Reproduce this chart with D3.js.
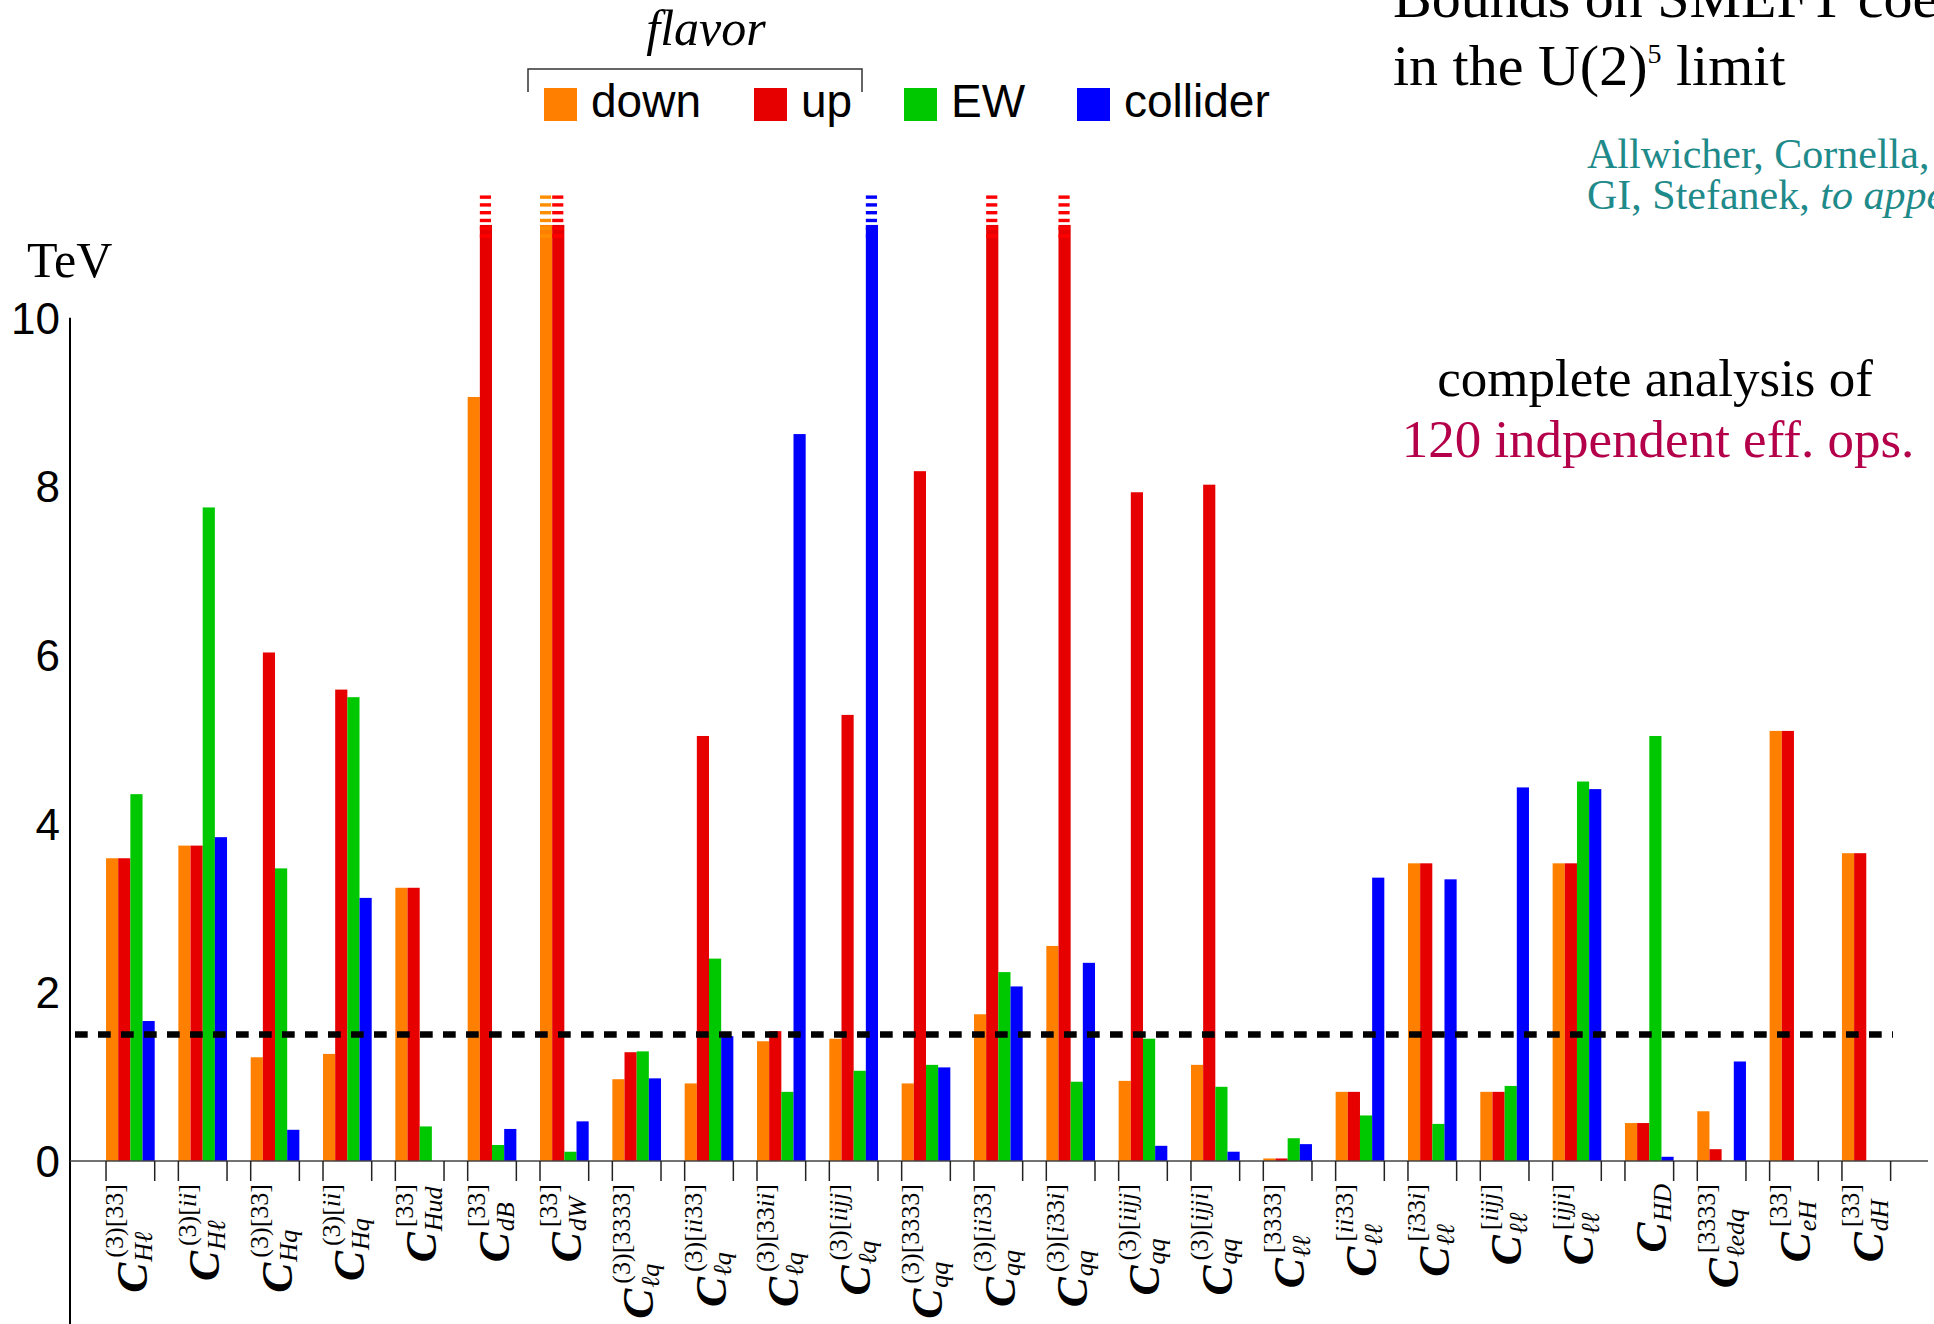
<!DOCTYPE html>
<html>
<head>
<meta charset="utf-8">
<script src="https://cdn.jsdelivr.net/npm/d3@7"></script>
<style>
  body { margin: 0; background: #fff; }
  svg { display: block; }
  .serif { font-family: "Liberation Serif", "Times New Roman", serif; }
  .sans { font-family: "Liberation Sans", Arial, sans-serif; }
</style>
</head>
<body>
<div id="chart"></div>
<script>
// Operators (x categories), with their super- and subscripts
const operators = ["Hl3_33", "Hl3_ii", "Hq3_33", "Hq3_ii", "Hud_33", "dB_33", "dW_33",
  "lq3_3333", "lq3_ii33", "lq3_33ii", "lq3_iijj",
  "qq3_3333", "qq3_ii33", "qq3_i33i", "qq3_iijj", "qq3_ijji",
  "ll_3333", "ll_ii33", "ll_i33i", "ll_iijj", "ll_ijji",
  "HD", "ledq_3333", "eH_33", "dH_33"];
const opSup = ["(3)[33]", "(3)[ii]", "(3)[33]", "(3)[ii]", "[33]", "[33]", "[33]",
  "(3)[3333]", "(3)[ii33]", "(3)[33ii]", "(3)[iijj]",
  "(3)[3333]", "(3)[ii33]", "(3)[i33i]", "(3)[iijj]", "(3)[ijji]",
  "[3333]", "[ii33]", "[i33i]", "[iijj]", "[ijji]",
  "", "[3333]", "[33]", "[33]"];
const opSub = ["Hℓ", "Hℓ", "Hq", "Hq", "Hud", "dB", "dW",
  "ℓq", "ℓq", "ℓq", "ℓq",
  "qq", "qq", "qq", "qq", "qq",
  "ℓℓ", "ℓℓ", "ℓℓ", "ℓℓ", "ℓℓ",
  "HD", "ℓedq", "eH", "dH"];

// Bounds in TeV; null = no bar, Infinity = off the scale
const seriesNames = ["down", "up", "EW", "collider"];
const down = [3.59, 3.74, 1.23, 1.27, 3.24, 9.06, Infinity, 0.97, 0.92, 1.42, 1.45,
  0.92, 1.74, 2.55, 0.95, 1.14, 0.03, 0.82, 3.53, 0.82, 3.53, 0.45, 0.59, 5.10, 3.65];
const up = [3.59, 3.74, 6.03, 5.59, 3.24, Infinity, Infinity, 1.29, 5.04, 1.54, 5.29,
  8.18, Infinity, Infinity, 7.93, 8.02, 0.03, 0.82, 3.53, 0.82, 3.53, 0.45, 0.14, 5.10, 3.65];
const ew = [4.35, 7.75, 3.47, 5.50, 0.41, 0.19, 0.11, 1.30, 2.40, 0.82, 1.07,
  1.14, 2.24, 0.94, 1.45, 0.88, 0.27, 0.54, 0.44, 0.89, 4.50, 5.04, null, null, null];
const collider = [1.66, 3.84, 0.37, 3.12, null, 0.38, 0.47, 0.98, 1.48, 8.62, Infinity,
  1.11, 2.07, 2.35, 0.18, 0.11, 0.20, 3.36, 3.34, 4.43, 4.41, 0.05, 1.18, null, null];

const yTicks = [0, 2, 4, 6, 8, 10];
const threshold = 1.5;
const yCap = 11.1; // where off-scale bars are cut

const colors = { down: "#ff8000", up: "#e60000", EW: "#00c800", collider: "#0000ff" };

const width = 1934, height = 1324;

const svg = d3.select("#chart").append("svg")
    .attr("width", width)
    .attr("height", height);

// Scales
const x = d3.scaleBand()
    .domain(operators)
    .range([94.2, 94.2 + operators.length * 72.33])
    .paddingInner(0.327)
    .paddingOuter(0.1635);

const xs = d3.scaleBand()
    .domain(seriesNames)
    .range([0, x.bandwidth()]);

const y = d3.scaleLinear()
    .domain([0, 10])
    .range([1161, 317.7]);

// Build bar records
const series = [down, up, ew, collider];
const bars = [];
operators.forEach((op, i) => {
    seriesNames.forEach((s, j) => {
        const v = series[j][i];
        if (v != null) bars.push({ op, s, v });
    });
});

// Bars
svg.append("g").selectAll("rect")
    .data(bars)
    .join("rect")
    .attr("x", d => x(d.op) + xs(d.s))
    .attr("width", xs.bandwidth())
    .attr("y", d => y(Math.min(d.v, yCap)))
    .attr("height", d => y(0) - y(Math.min(d.v, yCap)))
    .attr("fill", d => colors[d.s]);

// Dashes on top of off-scale bars
const dashes = [];
bars.filter(d => !isFinite(d.v)).forEach(d => {
    for (let k = 0; k < 6; k++) dashes.push({ ...d, k });
});
svg.append("g").selectAll("rect")
    .data(dashes)
    .join("rect")
    .attr("x", d => x(d.op) + xs(d.s))
    .attr("width", xs.bandwidth() - 1)
    .attr("y", d => y(yCap) - 29.5 + d.k * 7.78)
    .attr("height", 3.4)
    .attr("fill", d => d3.color(colors[d.s]).brighter(0.3));

// Axes lines
svg.append("line")
    .attr("x1", 70).attr("x2", 70)
    .attr("y1", y(10)).attr("y2", height)
    .attr("stroke", "#000").attr("stroke-width", 2);

svg.append("line")
    .attr("x1", 70).attr("x2", 1928)
    .attr("y1", y(0)).attr("y2", y(0))
    .attr("stroke", "#444").attr("stroke-width", 1.5);

// Ticks at the group edges
const edgeTicks = operators.flatMap(op => [x(op), x(op) + x.bandwidth()]);
svg.append("g").selectAll("line")
    .data(edgeTicks)
    .join("line")
    .attr("x1", d => d).attr("x2", d => d)
    .attr("y1", y(0)).attr("y2", y(0) + 20)
    .attr("stroke", "#222").attr("stroke-width", 1.5);

// Y tick labels
svg.append("g").selectAll("text")
    .data(yTicks)
    .join("text")
    .attr("class", "sans")
    .attr("x", 60)
    .attr("y", d => y(d))
    .attr("dy", "0.36em")
    .attr("text-anchor", "end")
    .attr("font-size", 44)
    .text(d => d);

svg.append("text")
    .attr("class", "serif")
    .attr("x", 27).attr("y", 277)
    .attr("font-size", 50)
    .text("TeV");

// Threshold line
svg.append("line")
    .attr("x1", 75).attr("x2", 1893)
    .attr("y1", y(threshold)).attr("y2", y(threshold))
    .attr("stroke", "#000")
    .attr("stroke-width", 6.5)
    .attr("stroke-dasharray", "12.7 10.3");

// Rotated operator labels
function rich(text, str) {
    const runs = str.match(/[A-Za-zℓ]+|[^A-Za-zℓ]+/g) || [];
    runs.forEach(r => text.append("tspan")
        .attr("font-style", /[A-Za-zℓ]/.test(r) ? "italic" : "normal")
        .text(r));
}

const labels = svg.append("g").attr("class", "serif").selectAll("g")
    .data(operators)
    .join("g")
    .attr("transform", d => `translate(${x(d) + x.bandwidth() / 2},1182) rotate(-90)`);

labels.each(function(d, i) {
    const g = d3.select(this);
    const sup = g.append("text").attr("y", -7).attr("font-size", 26);
    rich(sup, opSup[i]);
    const sub = g.append("text").attr("y", 22).attr("font-size", 26);
    rich(sub, opSub[i]);
    const supW = opSup[i] ? sup.node().getComputedTextLength() + 4 : 0;
    const subW = sub.node().getComputedTextLength();
    const w = Math.max(supW, subW);
    sub.attr("x", -2 - w);
    sup.attr("x", -2 - w + 4);
    g.append("text")
        .attr("x", -2 - w - 31)
        .attr("y", 16.5)
        .attr("font-size", 45)
        .attr("font-style", "italic")
        .attr("font-weight", "bold")
        .text("C");
});

// Legend
const legendX = [544, 754, 904, 1077];
const legend = svg.append("g").selectAll("g")
    .data(seriesNames)
    .join("g")
    .attr("transform", (d, i) => `translate(${legendX[i]},88)`);
legend.append("rect")
    .attr("width", 33).attr("height", 33)
    .attr("fill", d => colors[d]);
legend.append("text")
    .attr("class", "sans")
    .attr("x", 47).attr("y", 29)
    .attr("font-size", 46)
    .text(d => d);

svg.append("path")
    .attr("d", "M528,92V69H862V92")
    .attr("fill", "none")
    .attr("stroke", "#333")
    .attr("stroke-width", 1.5);

svg.append("text")
    .attr("class", "serif")
    .attr("x", 706).attr("y", 45)
    .attr("text-anchor", "middle")
    .attr("font-size", 50)
    .attr("font-style", "italic")
    .text("flavor");

// Title and notes, top right
svg.append("text")
    .attr("class", "serif")
    .attr("x", 1393).attr("y", 17)
    .attr("font-size", 58)
    .text("Bounds on SMEFT coefficients");

const t2 = svg.append("text")
    .attr("class", "serif")
    .attr("x", 1393).attr("y", 85)
    .attr("font-size", 58);
t2.append("tspan").text("in the U(2)");
t2.append("tspan").attr("font-size", 28).attr("dy", -22).text("5");
t2.append("tspan").attr("dy", 22).text(" limit");

const cite = svg.append("g").attr("class", "serif").attr("fill", "#1f8a8a").attr("font-size", 42);
cite.append("text").attr("x", 1587).attr("y", 168).text("Allwicher, Cornella,");
const c2 = cite.append("text").attr("x", 1587).attr("y", 209);
c2.append("tspan").text("GI, Stefanek, ");
c2.append("tspan").attr("font-style", "italic").text("to appear");

svg.append("text")
    .attr("class", "serif")
    .attr("x", 1655).attr("y", 396)
    .attr("text-anchor", "middle")
    .attr("font-size", 53)
    .text("complete analysis of");

svg.append("text")
    .attr("class", "serif")
    .attr("x", 1658).attr("y", 457)
    .attr("text-anchor", "middle")
    .attr("font-size", 53)
    .attr("fill", "#b4004a")
    .text("120 indpendent eff. ops.");
</script>
</body>
</html>
